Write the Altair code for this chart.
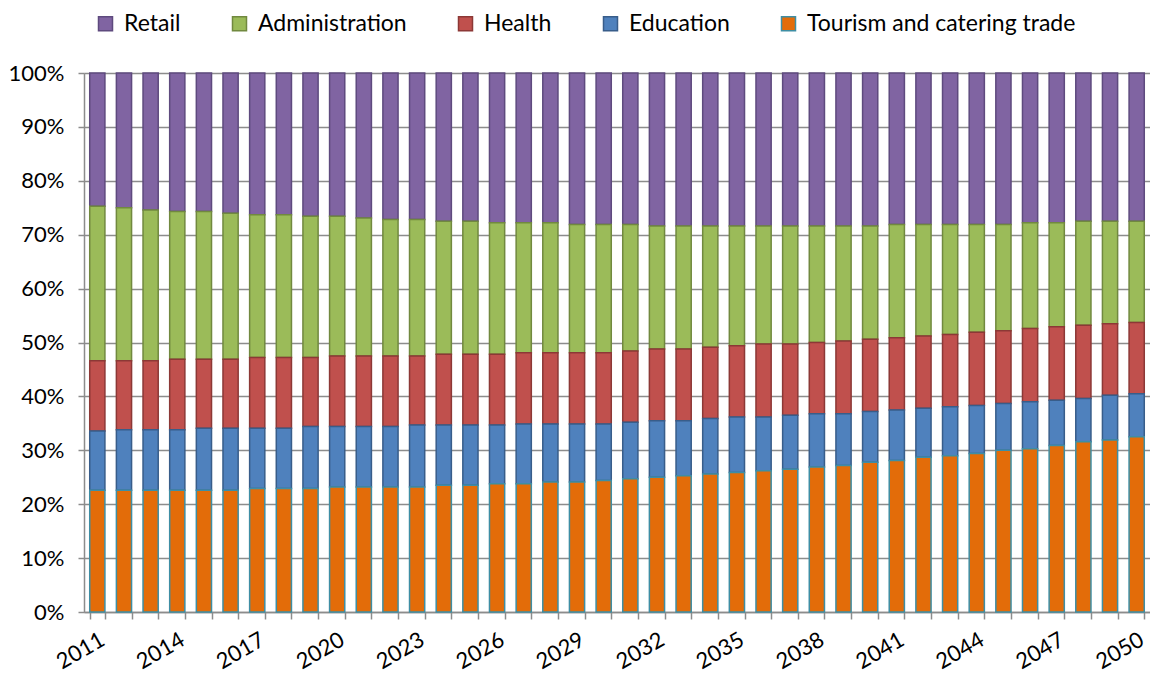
import altair as alt
import pandas as pd

years = [2011, 2012, 2013, 2014, 2015, 2016, 2017, 2018, 2019, 2020,
         2021, 2022, 2023, 2024, 2025, 2026, 2027, 2028, 2029, 2030,
         2031, 2032, 2033, 2034, 2035, 2036, 2037, 2038, 2039, 2040,
         2041, 2042, 2043, 2044, 2045, 2046, 2047, 2048, 2049, 2050]

tourism = [22.6, 22.6, 22.6, 22.6, 22.6, 22.6, 22.9, 22.9, 22.9, 23.2,
           23.2, 23.2, 23.2, 23.5, 23.5, 23.8, 23.8, 24.1, 24.1, 24.4,
           24.7, 25.0, 25.3, 25.6, 25.9, 26.2, 26.5, 26.9, 27.2, 27.8,
           28.1, 28.7, 29.0, 29.4, 30.0, 30.3, 30.9, 31.6, 31.9, 32.5]
education = [11.0, 11.2, 11.2, 11.2, 11.5, 11.5, 11.2, 11.2, 11.5, 11.2,
             11.2, 11.2, 11.5, 11.2, 11.2, 10.9, 11.1, 10.8, 10.8, 10.5,
             10.5, 10.5, 10.2, 10.3, 10.3, 10.0, 10.0, 9.9, 9.6, 9.4,
             9.4, 9.1, 9.1, 8.9, 8.7, 8.7, 8.4, 8.0, 8.3, 8.0]
health = [13.0, 12.8, 12.8, 13.1, 12.8, 12.8, 13.1, 13.1, 12.8, 13.1,
          13.1, 13.1, 12.8, 13.1, 13.1, 13.1, 13.2, 13.2, 13.2, 13.2,
          13.2, 13.3, 13.3, 13.2, 13.2, 13.5, 13.2, 13.2, 13.5, 13.4,
          13.4, 13.4, 13.4, 13.6, 13.5, 13.6, 13.6, 13.6, 13.3, 13.2]
administration = [28.7, 28.4, 28.0, 27.4, 27.4, 27.1, 26.5, 26.5, 26.2, 25.9,
                  25.6, 25.3, 25.3, 24.7, 24.7, 24.4, 24.1, 24.1, 23.8, 23.8,
                  23.5, 22.8, 22.8, 22.5, 22.2, 21.9, 21.9, 21.6, 21.3, 21.0,
                  21.0, 20.7, 20.4, 20.0, 19.7, 19.6, 19.3, 19.3, 19.0, 18.8]
retail = [24.7, 25.0, 25.4, 25.7, 25.7, 26.0, 26.3, 26.3, 26.6, 26.6,
          26.9, 27.2, 27.2, 27.5, 27.5, 27.8, 27.8, 27.8, 28.1, 28.1,
          28.1, 28.4, 28.4, 28.4, 28.4, 28.4, 28.4, 28.4, 28.4, 28.4,
          28.1, 28.1, 28.1, 28.1, 28.1, 27.8, 27.8, 27.5, 27.5, 27.5]

sectors = ["Retail", "Administration", "Health", "Education", "Tourism and catering trade"]
fills = ["#8064A2", "#9BBB59", "#C0504D", "#4F81BD", "#E36C09"]
strokes = ["#5E4A7E", "#71893F", "#8C3836", "#385D8A", "#3E8EA4"]
stack_rank = {"Tourism and catering trade": 0, "Education": 1, "Health": 2,
              "Administration": 3, "Retail": 4}

series = {
    "Retail": retail,
    "Administration": administration,
    "Health": health,
    "Education": education,
    "Tourism and catering trade": tourism,
}

rows = []
for name, vals in series.items():
    for yr, v in zip(years, vals):
        rows.append({"year": yr, "sector": name, "share": v, "rank": stack_rank[name]})
df = pd.DataFrame(rows)

FONT = "Lato"
GRID = "#8C8C8C"

legend = alt.Legend(
    orient="none", legendX=10, legendY=-61, direction="horizontal", columns=5,
    title=None, symbolType="square", symbolSize=196, symbolStrokeWidth=1.5,
    labelFont=FONT, labelFontSize=23, labelColor="#000000", labelOffset=7,
    labelLimit=500, columnPadding=47,
)

chart = alt.Chart(df).mark_bar(strokeWidth=1.5).encode(
    x=alt.X("year:O", title=None,
            scale=alt.Scale(paddingInner=0.43, paddingOuter=0.215),
            axis=alt.Axis(
                labelExpr="(datum.value - 2011) % 3 == 0 ? datum.label : ''",
                labelAngle=-30, labelAlign="right", labelBaseline="top",
                labelFont=FONT, labelFontSize=22, labelColor="#000000",
                labelPadding=10, labelOverlap=False, labelBound=False,
                tickBand="extent", ticks=True, tickSize=7, tickColor=GRID, tickWidth=1.5,
                domainColor=GRID, domainWidth=1.5, grid=False)),
    y=alt.Y("share:Q", stack="normalize", title=None,
            scale=alt.Scale(domain=[0, 1], nice=False),
            axis=alt.Axis(
                values=[0, 0.1, 0.2, 0.3, 0.4, 0.5, 0.6, 0.7, 0.8, 0.9, 1.0],
                format=".0%", labelFont=FONT, labelFontSize=22, labelColor="#000000",
                labelPadding=14, tickSize=6, tickColor=GRID, tickWidth=1.5,
                domainColor=GRID, domainWidth=1.5,
                grid=True, gridColor=GRID, gridWidth=1.5)),
    color=alt.Color("sector:N", scale=alt.Scale(domain=sectors, range=fills), legend=legend),
    stroke=alt.Stroke("sector:N", scale=alt.Scale(domain=sectors, range=strokes), legend=legend),
    order=alt.Order("rank:Q", sort="ascending"),
).properties(
    width=1066, height=539,
    autosize=alt.AutoSizeParams(type="none"),
    padding={"left": 76, "top": 65, "right": 0, "bottom": 63},
).configure_view(
    fill="#E6E6E6", stroke=None
).configure(background="#FFFFFF")

chart.save("out.html", embed_options={"renderer": "svg", "actions": False})
